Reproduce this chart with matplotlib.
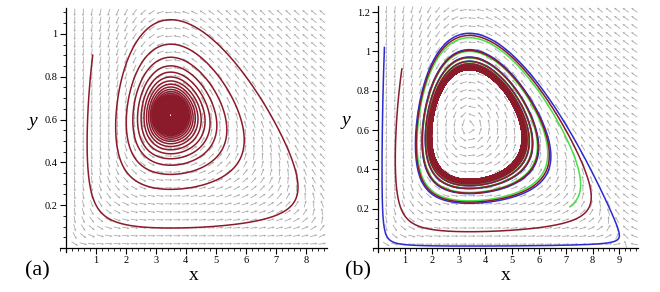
import numpy as np
import matplotlib.pyplot as plt
from matplotlib.ticker import AutoMinorLocator

# predator-prey model (Rosenzweig-MacArthur form)
#   x' = r x (1 - x/K) - a x y / (1 + h x)
#   y' = y (e a x / (1 + h x) - m)
r = 1.0
K = 9.3
m = 1.45
h_a = 0.40
h_b = 0.48
eq_a = (3.5, 0.62)   # equilibrium
eq_b = (3.4, 0.62)   # centre of the cycle in panel (b)

starts_a = [(0.9, 0.9)]
colors_a = ['#8b1a2a']
tend_a = [500]

starts_b = [(0.23, 1.02), (7.15, 0.21), (0.88, 0.91)]
colors_b = ['#2b2bd6', '#44e044', '#8b1a2a']
tend_b = [90, 90, 400]

xticks_a = [1, 2, 3, 4, 5, 6, 7, 8]
yticks_a = [0.2, 0.4, 0.6, 0.8, 1.0]
xticks_b = [1, 2, 3, 4, 5, 6, 7, 8, 9]
yticks_b = [0.2, 0.4, 0.6, 0.8, 1.0, 1.2]


def params(h, eq):
    xs, ys = eq
    ea = m * (1 + h * xs) / xs
    a = r * (1 - xs / K) * (1 + h * xs) / ys
    return a, ea / a, h


def rhs(p, x, y):
    a, e, h = p
    f = a * x * y / (1 + h * x)
    return r * x * (1 - x / K) - f, e * f - m * y


def solve(p, x0, y0, tend, dt=0.01):
    n = int(tend / dt)
    xs = np.empty(n + 1)
    ys = np.empty(n + 1)
    xs[0], ys[0] = x0, y0
    x, y = x0, y0
    for i in range(n):
        k1 = rhs(p, x, y)
        k2 = rhs(p, x + dt / 2 * k1[0], y + dt / 2 * k1[1])
        k3 = rhs(p, x + dt / 2 * k2[0], y + dt / 2 * k2[1])
        k4 = rhs(p, x + dt * k3[0], y + dt * k3[1])
        x += dt / 6 * (k1[0] + 2 * k2[0] + 2 * k3[0] + k4[0])
        y += dt / 6 * (k1[1] + 2 * k2[1] + 2 * k3[1] + k4[1])
        xs[i + 1], ys[i + 1] = x, y
    return xs, ys


def panel(ax, p, xlim, ylim, starts, colors, tends, xt, yt, tag, tagx):
    ax.set_xlim(*xlim)
    ax.set_ylim(*ylim)
    # direction field
    fig = ax.figure
    bb = ax.get_position()
    sx = bb.width * fig.get_figwidth() / (xlim[1] - xlim[0])
    sy = bb.height * fig.get_figheight() / (ylim[1] - ylim[0])
    gx, gy = np.meshgrid(np.linspace(0.3, xlim[1] - 0.15, 30),
                         np.linspace(0.02, ylim[1] - 0.02, 30))
    u, v = rhs(p, gx, gy)
    u, v = u * sx, v * sy
    nrm = np.hypot(u, v)
    ax.quiver(gx, gy, u / nrm, v / nrm, color='#a8a8a8', pivot='mid',
              scale_units='inches', scale=1 / 0.075, angles='uv',
              width=0.003, headwidth=3, headlength=3, headaxislength=2.6,
              zorder=1)
    for (x0, y0), c, te in zip(starts, colors, tends):
        xs, ys = solve(p, x0, y0, te)
        ax.plot(xs, ys, color=c, lw=1.1, zorder=2)

    for s in ['top', 'right']:
        ax.spines[s].set_visible(False)
    ax.spines['left'].set_position(('data', 0))
    ax.spines['bottom'].set_position(('data', 0))
    for s in ['left', 'bottom']:
        ax.spines[s].set_linewidth(0.9)
    ax.set_xticks(xt)
    ax.set_xticklabels([str(v) for v in xt])
    ax.set_yticks(yt)
    ax.set_yticklabels(['%g' % v for v in yt])
    ax.xaxis.set_minor_locator(AutoMinorLocator(5))
    ax.yaxis.set_minor_locator(AutoMinorLocator(4))
    ax.tick_params(which='major', length=4, width=0.8, labelsize=7.5, pad=2)
    ax.tick_params(which='minor', length=2, width=0.6)
    ax.set_xlabel('x', fontsize=14, labelpad=1)
    ax.set_ylabel('y', fontsize=14, fontstyle='italic', rotation=0, labelpad=8)
    ax.text(tagx, -0.075, tag, transform=ax.transAxes, fontsize=16,
            ha='left', va='center')


plt.rcParams['font.family'] = ['Liberation Serif', 'DejaVu Serif']
fig = plt.figure(figsize=(6.6, 2.92), dpi=100)
ax1 = fig.add_axes([0.0905, 0.136, 0.4045, 0.836])
ax2 = fig.add_axes([0.565, 0.137, 0.402, 0.842])

panel(ax1, params(h_a, eq_a), (-0.2, 8.7), (-0.02, 1.12), starts_a, colors_a,
      tend_a, xticks_a, yticks_a, '(a)', -0.13)
panel(ax2, params(h_b, eq_b), (-0.2, 9.7), (-0.02, 1.23), starts_b, colors_b,
      tend_b, xticks_b, yticks_b, '(b)', -0.105)

fig.savefig('out.png', dpi=100)
